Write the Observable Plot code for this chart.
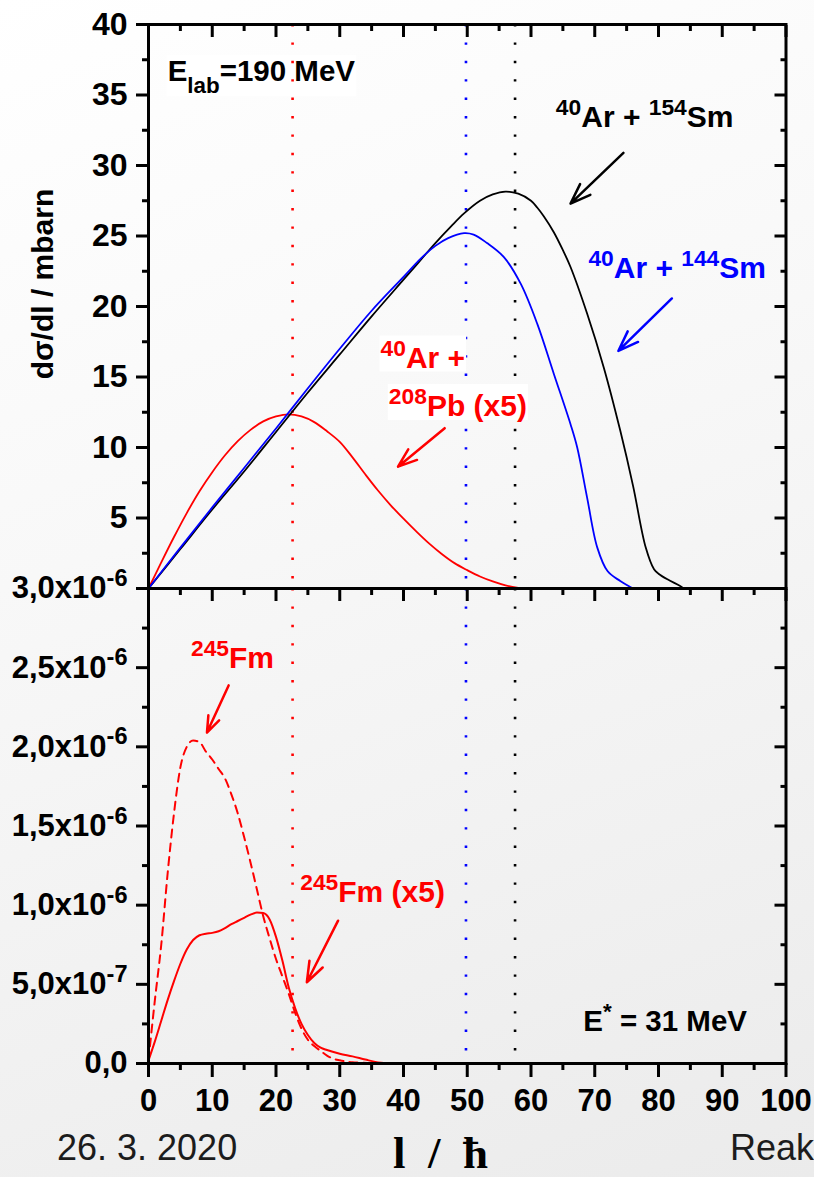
<!DOCTYPE html>
<html><head><meta charset="utf-8">
<script src="https://cdn.jsdelivr.net/npm/d3@7"></script>
<script src="https://cdn.jsdelivr.net/npm/@observablehq/plot@0.6"></script>
<style>
html,body{margin:0;padding:0;width:814px;height:1177px;overflow:hidden;}
body{background:linear-gradient(160deg,#ffffff 0%,#f8f8f8 40%,#ebebeb 100%);font-family:"Liberation Sans",Arial,sans-serif;}
#wrap{position:relative;width:814px;height:1177px;}
#wrap svg{position:absolute;left:0;}
.txt{position:absolute;white-space:pre;line-height:1;}
</style></head><body><div id="wrap"></div>
<script>
const FONT = '"Liberation Sans", Arial, Helvetica, sans-serif';

// ---- axis ticks ----
const xMajor = [0,10,20,30,40,50,60,70,80,90,100];
const xMajorLabels = ["0","10","20","30","40","50","60","70","80","90","100"];
const xMinor = [5,15,25,35,45,55,65,75,85,95];
const upYMajor = [0,5,10,15,20,25,30,35,40];
const upYMajorLabels = ["","5","10","15","20","25","30","35","40"];
const upYMinor = [2.5,7.5,12.5,17.5,22.5,27.5,32.5,37.5];
const lowYMajor = [0,0.5,1,1.5,2,2.5,3];            // x10^-6
const lowYMajorLabels = ["0,0","5,0x10^{-7}","1,0x10^{-6}","1,5x10^{-6}","2,0x10^{-6}","2,5x10^{-6}","3,0x10^{-6}"];
const lowYMinor = [0.25,0.75,1.25,1.75,2.25,2.75];

// ---- upper panel: dσ/dl (mbarn) vs l ----
const sm154L = [0,5,10,15,20,25,30,35,40,42.7,45,47.5,49.5,52,54,56,58,60,61,62,63.6,65,66.2,68.8,71.4,74,76,78,79.3,80,81.4,83.4,84];
const sm154Y = [0,2.8,5.6,8.3,11.1,13.9,16.6,19.3,21.9,23.3,24.5,25.7,26.6,27.5,27.95,28.15,28.0,27.5,27.0,26.4,25.25,24.0,22.8,19.5,15.7,11.2,7.3,2.9,1.36,1.05,0.65,0.18,0];
const sm144L = [0,5,10,15,20,25,30,35,40,42.7,45,47,49.5,51,53.1,55.75,58.4,61,63.6,66.2,67.25,68.8,70.4,72,74,76];
const sm144Y = [0,2.9,5.75,8.55,11.35,14.2,17.0,19.7,22.1,23.4,24.3,24.85,25.2,25.1,24.5,23.5,21.6,18.75,15.2,11.65,10.0,6.45,2.9,1.24,0.53,0];
const pb208L = [0,2,4,6,8,10,12,14,16,18,20,22,24,26,28,30,32,34,36,38,40,42,44,46,48,50,52,54,56,58];
const pb208Y = [0,1.85,3.65,5.35,6.9,8.25,9.45,10.45,11.25,11.85,12.2,12.35,12.2,11.8,11.15,10.4,9.3,8.1,6.95,5.9,4.95,4.05,3.2,2.45,1.8,1.3,0.85,0.5,0.22,0.04];

// ---- lower panel: 245Fm (x10^-6 mbarn) ----
const fmL = [0,1,2,3,4,5,6,7,8,9,10,11,12,13,14,15,16,17,18,19,20,21,22,23,24,25,26,27,28,29,30,32,35,40,50,58];
const fmY = [0.02,0.4,0.75,1.2,1.58,1.87,2.0,2.04,2.03,1.97,1.92,1.86,1.8,1.7,1.58,1.43,1.27,1.1,0.93,0.79,0.66,0.55,0.44,0.32,0.22,0.15,0.11,0.08,0.05,0.03,0.02,0.008,0.003,0,0,0];
const fm5L = [0,1,2,3,4,5,6,7,8,9,10,11,12,13,14,15,16,17,18,19,20,21,22,23,24,25,26,27,28,30,32,34,36,38,40,58];
const fm5Y = [0.02,0.14,0.27,0.40,0.52,0.63,0.72,0.78,0.81,0.82,0.825,0.835,0.855,0.88,0.90,0.92,0.94,0.953,0.95,0.91,0.8,0.65,0.48,0.35,0.25,0.18,0.13,0.1,0.085,0.062,0.045,0.025,0.007,0.001,0,0];

// ---- critical angular momenta (dotted lines) ----
const lPb = 22.6, lSm144 = 49.8, lSm154 = 57.5;

// ---- annotations (data coordinates) ----
const upText = ["E_{lab}=190 MeV","^{40}Ar + ^{154}Sm","^{40}Ar + ^{144}Sm","^{40}Ar +","^{208}Pb (x5)"];
const upTextL = [3.0, 63.9, 69.0, 36.4, 37.7];
const upTextV = [36.0, 32.75, 22.0, 15.67, 12.24];
const upArrowL1 = [74.5, 82.1, 46.46], upArrowV1 = [30.9, 20.57, 11.37];
const upArrowL2 = [66.2, 73.7, 39.14], upArrowV2 = [27.3, 16.85, 8.64];
const lowText = ["^{245}Fm","^{245}Fm (x5)","E^{*} = 31 MeV"];
const lowTextL = [6.66, 23.8, 68.2];
const lowTextV = [2.5, 1.017, 0.208];  // x10^-6
const lowArrowL1 = [12.57, 29.74], lowArrowV1 = [2.388, 0.902];
const lowArrowL2 = [9.17, 24.84], lowArrowV2 = [2.09, 0.513];

const E6 = 1e-6;
const idx = a => d3.range(a.length);
const lbl = (ticks, labels) => d => { let k = 0, b = Infinity; ticks.forEach((t,i)=>{const e=Math.abs(t-d); if(e<b){b=e;k=i;}}); return labels[k]; };
const dots = {strokeDasharray: "2.4,16", strokeWidth: 2.6};
const frameStyle = {background: "transparent", overflow: "visible", fontFamily: FONT, fontWeight: "bold", color: "black"};
const CURVE = "catmull-rom";

const up = Plot.plot({
  width: 814, height: 600,
  marginTop: 24, marginBottom: 12, marginLeft: 148, marginRight: 28.5,
  x: {domain: [0,100], axis: null},
  y: {domain: [0,40], axis: null},
  style: frameStyle,
  marks: [
    Plot.text([0], {x: upTextL[0], y: upTextV[0], text: [upText[0]], fill: "black", fontSize: 29.5, fontWeight: "bold", textAnchor: "start", lineAnchor: "bottom"}),
    Plot.ruleX([lPb], {x: d=>d, stroke: "#ff0000", ...dots}),
    Plot.ruleX([lSm144], {x: d=>d, stroke: "#0000ff", ...dots}),
    Plot.ruleX([lSm154], {x: d=>d, stroke: "black", ...dots}),
    Plot.line(idx(pb208L), {x: i=>pb208L[i], y: i=>pb208Y[i], stroke: "#ff0000", strokeWidth: 1.8, curve: CURVE}),
    Plot.line(idx(sm154L), {x: i=>sm154L[i], y: i=>sm154Y[i], stroke: "black", strokeWidth: 1.8, curve: CURVE}),
    Plot.line(idx(sm144L), {x: i=>sm144L[i], y: i=>sm144Y[i], stroke: "#0000ff", strokeWidth: 1.8, curve: CURVE}),
    Plot.frame({strokeWidth: 3}),
    Plot.axisY({anchor: "left", ticks: upYMajor, tickSize: 12, tickPadding: 9, strokeWidth: 3, fontSize: 32, fontWeight: "bold", tickFormat: lbl(upYMajor, upYMajorLabels), label: null}),
    Plot.axisY({anchor: "left", ticks: upYMinor, tickSize: 6, strokeWidth: 3, tickFormat: () => "", label: null}),
    Plot.axisY({anchor: "right", ticks: upYMajor, tickSize: -12, strokeWidth: 3, tickFormat: () => "", label: null}),
    Plot.axisY({anchor: "right", ticks: upYMinor, tickSize: -6, strokeWidth: 3, tickFormat: () => "", label: null}),
    Plot.axisX({anchor: "top", ticks: xMajor, tickSize: -12, strokeWidth: 3, tickFormat: () => "", label: null}),
    Plot.axisX({anchor: "top", ticks: xMinor, tickSize: -6, strokeWidth: 3, tickFormat: () => "", label: null}),
    Plot.arrow([0], {x1: upArrowL1[0], y1: upArrowV1[0], x2: upArrowL2[0], y2: upArrowV2[0], stroke: "black", strokeWidth: 2.5, headLength: 13, headAngle: 40}),
    Plot.arrow([0], {x1: upArrowL1[1], y1: upArrowV1[1], x2: upArrowL2[1], y2: upArrowV2[1], stroke: "#0000ff", strokeWidth: 2.5, headLength: 13, headAngle: 40}),
    Plot.arrow([0], {x1: upArrowL1[2], y1: upArrowV1[2], x2: upArrowL2[2], y2: upArrowV2[2], stroke: "#ff0000", strokeWidth: 2.5, headLength: 13, headAngle: 40}),
    Plot.text([1], {x: i=>upTextL[i], y: i=>upTextV[i], text: i=>upText[i], fill: "black", fontSize: 30, fontWeight: "bold", textAnchor: "start", lineAnchor: "bottom"}),
    Plot.text([2], {x: i=>upTextL[i], y: i=>upTextV[i], text: i=>upText[i], fill: "#0000ff", fontSize: 30, fontWeight: "bold", textAnchor: "start", lineAnchor: "bottom"}),
    Plot.text([3,4], {x: i=>upTextL[i], y: i=>upTextV[i], text: i=>upText[i], fill: "#ff0000", fontSize: 30, fontWeight: "bold", textAnchor: "start", lineAnchor: "bottom"})
  ]
});

const low = Plot.plot({
  width: 814, height: 601,
  marginTop: 12, marginBottom: 114, marginLeft: 148, marginRight: 28.5,
  x: {domain: [0,100], axis: null},
  y: {domain: [0,3*E6], axis: null},
  style: frameStyle,
  marks: [
    Plot.ruleX([lPb], {x: d=>d, stroke: "#ff0000", ...dots}),
    Plot.ruleX([lSm144], {x: d=>d, stroke: "#0000ff", ...dots}),
    Plot.ruleX([lSm154], {x: d=>d, stroke: "black", ...dots}),
    Plot.line(idx(fmL), {x: i=>fmL[i], y: i=>fmY[i]*E6, stroke: "#ff0000", strokeWidth: 2, strokeDasharray: "8,6", curve: "monotone-x"}),
    Plot.line(idx(fm5L), {x: i=>fm5L[i], y: i=>fm5Y[i]*E6, stroke: "#ff0000", strokeWidth: 2, curve: "monotone-x"}),
    Plot.frame({strokeWidth: 3}),
    Plot.axisY({anchor: "left", ticks: lowYMajor.map(v=>v*E6), tickSize: 12, tickPadding: 9, strokeWidth: 3, fontSize: 31, fontWeight: "bold", tickFormat: lbl(lowYMajor.map(v=>v*E6), lowYMajorLabels), label: null}),
    Plot.axisY({anchor: "left", ticks: lowYMinor.map(v=>v*E6), tickSize: 6, strokeWidth: 3, tickFormat: () => "", label: null}),
    Plot.axisY({anchor: "right", ticks: lowYMajor.map(v=>v*E6), tickSize: -12, strokeWidth: 3, tickFormat: () => "", label: null}),
    Plot.axisY({anchor: "right", ticks: lowYMinor.map(v=>v*E6), tickSize: -6, strokeWidth: 3, tickFormat: () => "", label: null}),
    Plot.axisX({anchor: "top", ticks: xMajor, tickSize: -12, strokeWidth: 3, tickFormat: () => "", label: null}),
    Plot.axisX({anchor: "top", ticks: xMinor, tickSize: -6, strokeWidth: 3, tickFormat: () => "", label: null}),
    Plot.axisX({anchor: "bottom", ticks: xMajor, tickSize: 14, tickPadding: 11, strokeWidth: 3, fontSize: 31, fontWeight: "bold", tickFormat: lbl(xMajor, xMajorLabels), label: null}),
    Plot.axisX({anchor: "bottom", ticks: xMinor, tickSize: 7, strokeWidth: 3, tickFormat: () => "", label: null}),
    Plot.arrow(idx(lowArrowL1), {x1: i=>lowArrowL1[i], y1: i=>lowArrowV1[i]*E6, x2: i=>lowArrowL2[i], y2: i=>lowArrowV2[i]*E6, stroke: "#ff0000", strokeWidth: 2.5, headLength: 13, headAngle: 40}),
    Plot.text([0,1], {x: i=>lowTextL[i], y: i=>lowTextV[i]*E6, text: i=>lowText[i], fill: "#ff0000", fontSize: 30, fontWeight: "bold", textAnchor: "start", lineAnchor: "bottom"}),
    Plot.text([2], {x: i=>lowTextL[i], y: i=>lowTextV[i]*E6, text: i=>lowText[i], fill: "black", fontSize: 29.5, fontWeight: "bold", textAnchor: "start", lineAnchor: "bottom"})
  ]
});

const wrap = document.getElementById("wrap");
up.style.top = "0px";
low.style.top = "576px";
wrap.appendChild(up);
wrap.appendChild(low);

const boxed = new Set(["E_{lab}=190 MeV","^{40}Ar +","^{208}Pb (x5)"]);
function richify(svg) {
  d3.select(svg).selectAll("text").each(function() {
    const s = this.textContent;
    if (!/[\^_]\{/.test(s)) return;
    const fs = parseFloat(getComputedStyle(this).fontSize) || 30;
    const small = fs * 0.76, raise = fs * 0.4, lower = fs * 0.42;
    const parts = []; const re = /([\^_])\{([^}]*)\}/g; let last = 0, m;
    while ((m = re.exec(s))) {
      if (m.index > last) parts.push({t: s.slice(last, m.index), k: 0});
      parts.push({t: m[2], k: m[1] === "^" ? 1 : -1});
      last = re.lastIndex;
    }
    if (last < s.length) parts.push({t: s.slice(last), k: 0});
    this.textContent = "";
    let cur = 0;
    for (const p of parts) {
      const off = p.k === 1 ? -raise : p.k === -1 ? lower : 0;
      const ts = d3.select(this).append("tspan").text(p.t).attr("dy", off - cur);
      if (p.k) ts.attr("font-size", small);
      cur = off;
    }
    if (boxed.has(s)) {
      const r = this.getBoundingClientRect(), sr = svg.getBoundingClientRect();
      let g = this; while (g.parentNode && g.parentNode !== svg) g = g.parentNode;
      const rect = document.createElementNS("http://www.w3.org/2000/svg", "rect");
      rect.setAttribute("x", r.left - sr.left - 1);
      rect.setAttribute("y", r.top - sr.top + 1);
      rect.setAttribute("width", r.width + 2);
      rect.setAttribute("height", r.height - 3);
      rect.setAttribute("fill", "white");
      svg.insertBefore(rect, g);
    }
  });
}
richify(up);
richify(low);

// y-axis title, x-axis title and slide footer
function addTxt(str, css) {
  const d = document.createElement("div");
  d.className = "txt"; d.textContent = str; d.style.cssText += css;
  wrap.appendChild(d); return d;
}
addTxt("dσ/dl / mbarn", `left:43px;top:284px;transform:translate(-50%,-50%) rotate(-90deg);font:bold 30px ${FONT};color:black;`);
addTxt("l  /  ħ", `left:393px;top:1127px;font:bold 45px "Liberation Serif","Times New Roman",serif;color:black;`);
addTxt("26. 3. 2020", `left:57px;top:1127px;font:36px ${FONT};color:#1c1c1c;`);
addTxt("Reak", `left:730px;top:1127px;font:36px ${FONT};color:#1c1c1c;`);
</script></body></html>
